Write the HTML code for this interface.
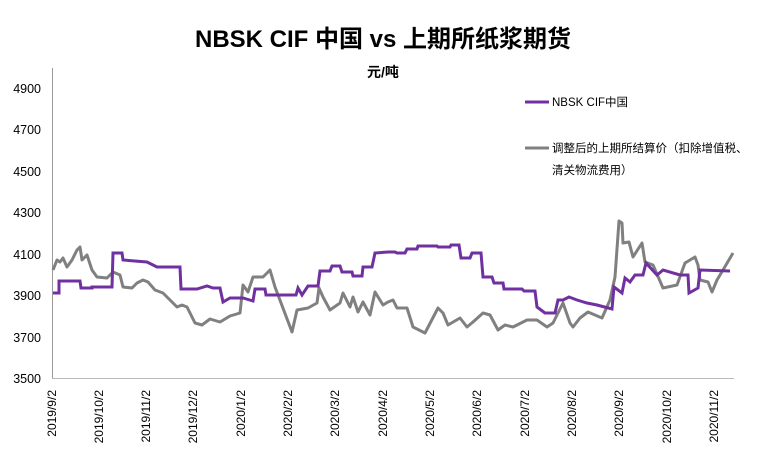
<!DOCTYPE html>
<html><head><meta charset="utf-8"><style>
body{margin:0;background:#fff;}
svg{display:block;font-family:"Liberation Sans","Noto Sans CJK SC",sans-serif;}
</style></head><body>
<svg width="771" height="455" viewBox="0 0 771 455">
<rect width="771" height="455" fill="#fff"/>
<text x="383" y="47" text-anchor="middle" font-size="24" font-weight="bold" fill="#000">NBSK CIF 中国 vs 上期所纸浆期货</text>
<text x="383" y="77" text-anchor="middle" font-size="14" font-weight="bold" fill="#000">元/吨</text>
<g font-size="12.5" fill="#000" text-anchor="end">
<text x="41" y="383">3500</text><text x="41" y="342">3700</text><text x="41" y="300">3900</text><text x="41" y="259">4100</text><text x="41" y="217">4300</text><text x="41" y="176">4500</text><text x="41" y="134">4700</text><text x="41" y="93">4900</text>
</g>
<line x1="52.5" y1="68" x2="52.5" y2="378" stroke="#999" stroke-width="1"/>
<line x1="52" y1="378.5" x2="734" y2="378.5" stroke="#bbb" stroke-width="1"/>
<g font-size="12" fill="#000" text-anchor="end">
<text transform="translate(56,390) rotate(-90)">2019/9/2</text>
<text transform="translate(103,390) rotate(-90)">2019/10/2</text>
<text transform="translate(150,390) rotate(-90)">2019/11/2</text>
<text transform="translate(197,390) rotate(-90)">2019/12/2</text>
<text transform="translate(245,390) rotate(-90)">2020/1/2</text>
<text transform="translate(292,390) rotate(-90)">2020/2/2</text>
<text transform="translate(339,390) rotate(-90)">2020/3/2</text>
<text transform="translate(387,390) rotate(-90)">2020/4/2</text>
<text transform="translate(434,390) rotate(-90)">2020/5/2</text>
<text transform="translate(481,390) rotate(-90)">2020/6/2</text>
<text transform="translate(529,390) rotate(-90)">2020/7/2</text>
<text transform="translate(576,390) rotate(-90)">2020/8/2</text>
<text transform="translate(623,390) rotate(-90)">2020/9/2</text>
<text transform="translate(671,390) rotate(-90)">2020/10/2</text>
<text transform="translate(718,390) rotate(-90)">2020/11/2</text>
</g>
<polyline fill="none" stroke="#808080" stroke-width="3" stroke-linejoin="round" points="53,270 57,260 60,262 63,258 67,267 72,260 77,250 80,247 82,260 87,255 92,270 97,277 107,278 113,272 120,275 123,287 132,288 137,283 143,280 148,282 155,290 163,293 170,300 177,307 182,305 187,307 195,323 202,325 210,319 220,322 230,316 240,313 243,285 248,292 253,277 263,277 270,270 275,287 292,332 297,310 308,308 317,303 319,288 323,297 330,310 340,303 343,293 350,307 353,297 358,312 363,302 370,315 375,292 383,305 388,302 393,300 397,308 407,308 413,327 425,333 438,308 443,313 448,325 460,318 467,327 473,322 483,313 490,315 498,330 505,325 513,327 527,320 537,320 547,327 553,323 563,303 570,323 573,327 580,318 588,312 602,318 610,300 615,277 619,221 622,223 623,243 629,242 633,257 642,243 645,262 653,265 663,288 677,285 685,263 695,257 698,265 700,280 708,282 712,292 717,280 723,270 733,253"/>
<polyline fill="none" stroke="#7030A0" stroke-width="3" points="53,293 59,293 59,281 80,281 81,288 92,288 92,287 112,287 113,253 122,253 123,260 147,262 157,267 180,267 181,289 197,289 207,286 213,288 220,288 223,302 230,298 243,298 253,301 255,289 265,289 266,295 296,295 298,288 302,295 308,286 318,286 320,271 330,271 332,266 340,266 342,272 352,272 353,276 362,276 363,267 372,267 375,253 388,252 395,252 397,253 405,253 407,249 417,249 418,246 437,246 438,247 450,247 451,245 459,245 461,258 470,258 472,253 481,253 483,277 492,277 494,283 503,283 504,289 522,289 524,291 535,291 537,307 545,313 555,313 558,300 563,300 569,297 577,300 587,303 597,305 612,309 614,287 622,293 625,278 630,282 635,275 643,275 646,263 657,275 663,270 680,275 688,275 689,293 698,288 700,270 730,271"/>
<line x1="525" y1="102" x2="549" y2="102" stroke="#7030A0" stroke-width="3"/>
<text x="552" y="106" font-size="11.5" fill="#000">NBSK CIF中国</text>
<line x1="525" y1="148" x2="549" y2="148" stroke="#808080" stroke-width="3"/>
<text x="552" y="152" font-size="11.5" fill="#000">调整后的上期所结算价（扣除增值税、</text>
<text x="552" y="174" font-size="11.5" fill="#000">清关物流费用）</text>
</svg>
</body></html>
